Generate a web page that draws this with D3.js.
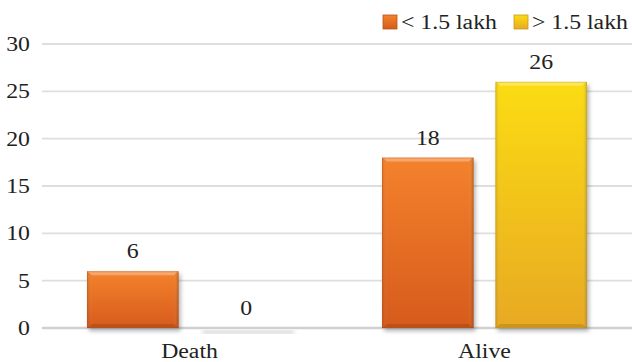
<!DOCTYPE html>
<html>
<head>
<meta charset="utf-8">
<script src="https://cdn.jsdelivr.net/npm/d3@7"></script>
</head>
<body style="margin:0">
<svg id="chart" width="632" height="362" style="display:block;font-family:'Liberation Serif'"></svg>
<script>
const categories = ["Death", "Alive"];
const seriesNames = ["< 1.5 lakh", "> 1.5 lakh"];
const lowIncome = [6, 18];
const highIncome = [0, 26];
const yTicks = [0, 5, 10, 15, 20, 25, 30];

const series = [
  { name: seriesNames[0], values: lowIncome, grad: "gOrange", top: "#f4822c", bottom: "#d65b1c", edge: "#b9531c" },
  { name: seriesNames[1], values: highIncome, grad: "gYellow", top: "#fbdc12", bottom: "#e8a923", edge: "#c99a1c" }
];

const W = 632, H = 362;
const margin = { left: 42, right: 0, top: 44, bottom: 34 };
const FONT = "'Liberation Serif'";
const SX = 1.16;           // wide set type
const svg = d3.select("#chart");

// place a text label at (x, y) with a horizontally widened face
function wide(sel, x, y) {
  return sel.attr("x", 0).attr("y", 0)
    .attr("transform", `translate(${x},${y}) scale(${SX},1)`);
}

const defs = svg.append("defs");
series.forEach(s => {
  const g = defs.append("linearGradient").attr("id", s.grad)
    .attr("x1", 0).attr("y1", 0).attr("x2", 0).attr("y2", 1);
  g.append("stop").attr("offset", "0%").attr("stop-color", s.top);
  g.append("stop").attr("offset", "100%").attr("stop-color", s.bottom);
});
// bevel shading on the sides
const side = defs.append("linearGradient").attr("id", "gSide")
  .attr("x1", 0).attr("y1", 0).attr("x2", 1).attr("y2", 0);
side.append("stop").attr("offset", "0%").attr("stop-color", "#000").attr("stop-opacity", 0.12);
side.append("stop").attr("offset", "6%").attr("stop-color", "#fff").attr("stop-opacity", 0.0);
side.append("stop").attr("offset", "94%").attr("stop-color", "#fff").attr("stop-opacity", 0.0);
side.append("stop").attr("offset", "100%").attr("stop-color", "#000").attr("stop-opacity", 0.18);
const shadow = defs.append("filter").attr("id", "shadow")
  .attr("x", "-10%").attr("y", "-10%").attr("width", "120%").attr("height", "130%");
shadow.append("feGaussianBlur").attr("stdDeviation", 2.2);

const y = d3.scaleLinear().domain([0, 30]).range([328, 44]);
const x0 = d3.scaleBand().domain(categories).range([margin.left, W]).paddingInner(0).paddingOuter(0);
const groupPad = 45;
const x1 = d3.scaleBand().domain(seriesNames)
  .range([0, x0.bandwidth() - 2 * groupPad]).paddingInner(0.193);

// gridlines
svg.append("g").selectAll("line").data(yTicks).join("line")
  .attr("x1", margin.left).attr("x2", W)
  .attr("y1", d => y(d)).attr("y2", d => y(d))
  .attr("stroke", d => d === 0 ? "#d0d0d0" : "#dedede")
  .attr("stroke-width", d => d === 0 ? 2.5 : 1.8);

// y axis labels
const yAxis = d3.axisLeft(y).tickValues(yTicks).tickSize(0).tickPadding(0);
const yg = svg.append("g").attr("transform", "translate(30,0)").call(yAxis);
yg.attr("font-family", null).attr("font-size", null);
yg.select(".domain").remove();
yg.selectAll("text").attr("font-size", 20.5).attr("fill", "#222")
  .style("font-family", FONT)
  .attr("transform", `scale(${SX},1)`);

// bars
const groups = svg.append("g").selectAll("g").data(categories).join("g")
  .attr("transform", d => `translate(${x0(d) + groupPad},0)`);

groups.each(function (cat, ci) {
  const g = d3.select(this);
  series.forEach(s => {
    const v = s.values[ci];
    const bx = x1(s.name), bw = x1.bandwidth();
    const top = y(v), h = y(0) - y(v);
    // drop shadow
    g.append("rect").attr("x", bx + 2).attr("y", top + 3).attr("width", bw).attr("height", Math.max(h, 2))
      .attr("fill", "#555").attr("opacity", 0.45).attr("filter", "url(#shadow)");
    if (h > 0) {
      g.append("rect").attr("x", bx).attr("y", top).attr("width", bw).attr("height", h)
        .attr("fill", `url(#${s.grad})`);
      g.append("rect").attr("x", bx).attr("y", top).attr("width", bw).attr("height", h)
        .attr("fill", "url(#gSide)");
      // top bevel
      g.append("path")
        .attr("d", `M${bx},${top} L${bx + bw},${top} L${bx + bw - 5},${top + 4} L${bx + 5},${top + 4} Z`)
        .attr("fill", "#fff").attr("opacity", 0.3);
      // bottom bevel
      g.append("path")
        .attr("d", `M${bx},${top + h} L${bx + bw},${top + h} L${bx + bw - 5},${top + h - 4} L${bx + 5},${top + h - 4} Z`)
        .attr("fill", "#000").attr("opacity", 0.12);
      g.append("rect").attr("x", bx + 0.5).attr("y", top + 0.5).attr("width", bw - 1).attr("height", h - 1)
        .attr("fill", "none").attr("stroke", s.edge).attr("stroke-opacity", 0.35);
    }
    wide(g.append("text"), bx + bw / 2, top - 13)
      .attr("text-anchor", "middle").attr("font-size", 20.5).attr("fill", "#222")
      .style("font-family", FONT)
      .text(v);
  });
});

// category labels
svg.append("g").selectAll("text").data(categories).join("text")
  .attr("transform", d => `translate(${x0(d) + x0.bandwidth() / 2},358) scale(${SX},1)`)
  .attr("text-anchor", "middle").attr("font-size", 20.5).attr("fill", "#222")
  .style("font-family", FONT)
  .text(d => d);

// legend
const legendPos = [383, 514];
const lg = svg.append("g").selectAll("g").data(series).join("g")
  .attr("transform", (d, i) => `translate(${legendPos[i]},15)`);
lg.append("rect").attr("width", 14).attr("height", 14).attr("fill", d => `url(#${d.grad})`)
  .attr("stroke", d => d.edge).attr("stroke-width", 0.8);
lg.append("text")
  .attr("transform", `translate(18,14) scale(${SX},1)`)
  .attr("font-size", 20.5).attr("fill", "#222")
  .style("font-family", FONT)
  .text(d => d.name);
</script>
</body>
</html>
